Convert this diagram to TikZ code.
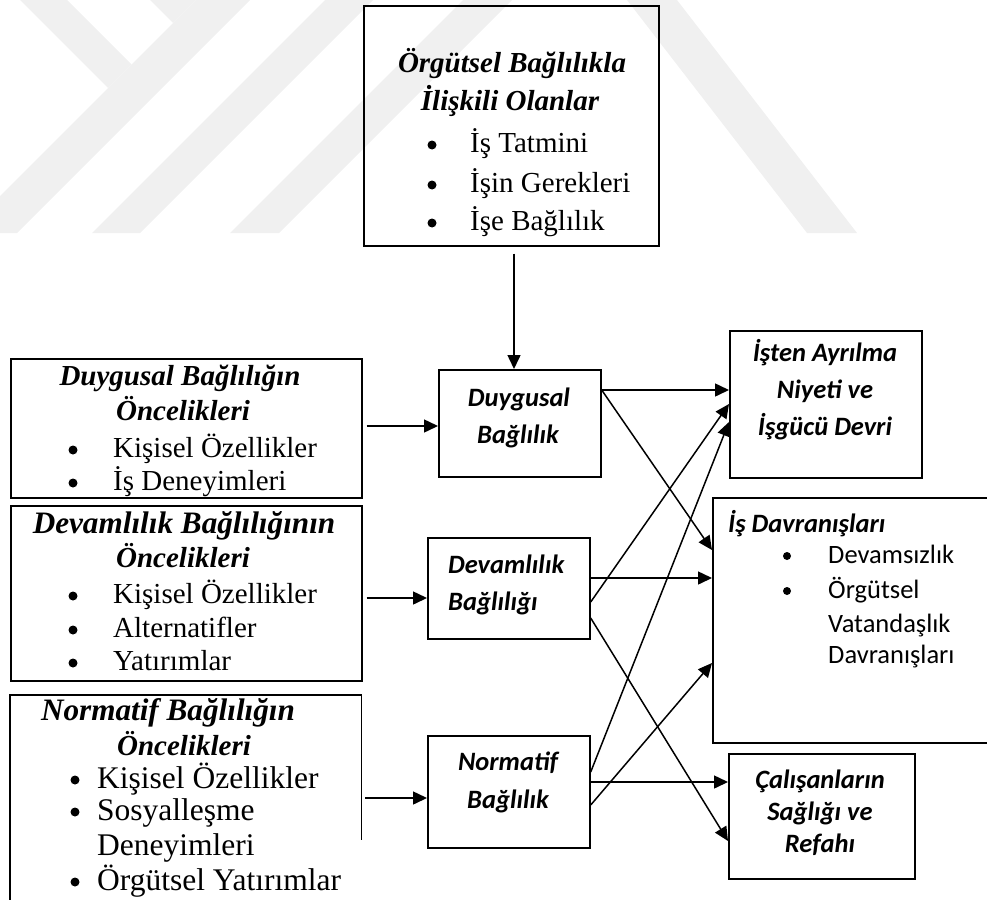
\documentclass[tikz,border=0pt]{standalone}
\usepackage{fontspec}
\setmainfont{Liberation Serif}
\newfontfamily\calfont{Carlito}
\usetikzlibrary{arrows.meta,calc}

\begin{document}
\begin{tikzpicture}[x=1pt,y=-1pt,
  box/.style={draw, line width=1.7pt, inner sep=0pt, anchor=north west},
  frame/.style={line width=1.7pt},
  conn/.style={line width=1.5pt, -{Triangle[length=14pt,width=13pt]}},
  bul/.style={circle, fill, draw=none, inner sep=0pt, minimum size=9pt},
  tnr/.style={font=\fontsize{29}{34}\selectfont, inner sep=0pt},
  tnrh/.style={font=\fontsize{29}{34}\selectfont\bfseries\itshape, inner sep=0pt},
  tnrl/.style={font=\fontsize{31.5}{36}\selectfont, inner sep=0pt},
  tnrlh/.style={font=\fontsize{31.2}{36}\selectfont\bfseries\itshape, inner sep=0pt},
  cal/.style={font=\calfont\fontsize{26.5}{32}\selectfont, inner sep=0pt},
  calh/.style={font=\calfont\fontsize{26.5}{32}\selectfont\bfseries\itshape, inner sep=0pt},
  wm/.style={fill=black!6, draw=none}
]
\useasboundingbox (0,0) rectangle (987,899);
\clip (0,0) rectangle (987,899);

% faint background stripes
\fill[wm] (20,0) -- (67,0) -- (131.5,64.5) -- (108,88) -- cycle;
\fill[wm] (196,0) -- (250,0) -- (17,233) -- (-37,233) -- cycle;
\fill[wm] (150,0) -- (196,0) -- (173,23) -- cycle;
\fill[wm] (325,0) -- (373,0) -- (140,233) -- (92,233) -- cycle;
\fill[wm] (463,0) -- (512,0) -- (279,233) -- (230,233) -- cycle;
\fill[wm] (627,0) -- (677,0) -- (857,233) -- (807,233) -- cycle;

% boxes
\node[box, minimum width=295pt, minimum height=240pt] (top) at (363,5) {};
\node[box, minimum width=351pt, minimum height=139pt] (ant1) at (10,358) {};
\node[box, minimum width=351pt, minimum height=175pt] (ant2) at (10,505) {};
\node[inner sep=0pt, anchor=north west, minimum width=351pt, minimum height=225pt] (ant3) at (10,695) {};
\draw[frame] (ant3.south west) -- (ant3.north west) -- (ant3.north east) -- ($(ant3.north east)+(0,145)$);

\node[box, minimum width=162pt, minimum height=107pt] (duy) at (438,369) {};
\node[box, minimum width=162pt, minimum height=101pt] (dev) at (427,537) {};
\node[box, minimum width=162pt, minimum height=112pt] (nor) at (427,735) {};

\node[box, minimum width=192pt, minimum height=147pt] (isten) at (729,330) {};
\node[box, minimum width=300pt, minimum height=245pt] (isdav) at (712,497) {};
\node[box, minimum width=186pt, minimum height=125pt] (calis) at (728,753) {};

% top box text
\node[tnrh, anchor=base] (t1) at (512,73) {Örgütsel Bağlılıkla};
\node[tnrh, anchor=base] (t2) at (510,110) {İlişkili Olanlar};
\node[bul] (tb1) at (432,145) {};
\node[tnr, anchor=base west] (ti1) at (470,152) {İş Tatmini};
\node[bul] (tb2) at (432,185) {};
\node[tnr, anchor=base west] (ti2) at (470,192) {İşin Gerekleri};
\node[bul] (tb3) at (432,223) {};
\node[tnr, anchor=base west] (ti3) at (470,230) {İşe Bağlılık};

% left box 1
\node[tnrh, anchor=base] (a1h1) at (180,385) {Duygusal Bağlılığın};
\node[tnrh, anchor=base] (a1h2) at (183,420) {Öncelikleri};
\node[bul] (a1b1) at (73,450) {};
\node[tnr, anchor=base west] (a1i1) at (113,457) {Kişisel Özellikler};
\node[bul] (a1b2) at (73,483) {};
\node[tnr, anchor=base west] (a1i2) at (113,490) {İş Deneyimleri};

% left box 2
\node[tnrlh, anchor=base] (a2h1) at (184,533) {Devamlılık Bağlılığının};
\node[tnrh, anchor=base] (a2h2) at (183,567) {Öncelikleri};
\node[bul] (a2b1) at (73,596) {};
\node[tnr, anchor=base west] (a2i1) at (113,603) {Kişisel Özellikler};
\node[bul] (a2b2) at (73,630) {};
\node[tnr, anchor=base west] (a2i2) at (113,637) {Alternatifler};
\node[bul] (a2b3) at (73,663) {};
\node[tnr, anchor=base west] (a2i3) at (113,670) {Yatırımlar};

% left box 3
\node[tnrlh, anchor=base] (a3h1) at (168,720) {Normatif Bağlılığın};
\node[tnrh, anchor=base] (a3h2) at (184,755) {Öncelikleri};
\node[bul] (a3b1) at (75,780) {};
\node[tnrl, anchor=base west] (a3i1) at (97,788) {Kişisel Özellikler};
\node[bul] (a3b2) at (75,812) {};
\node[tnrl, anchor=base west] (a3i2) at (97,820) {Sosyalleşme};
\node[tnrl, anchor=base west] (a3i2b) at (97,855) {Deneyimleri};
\node[bul] (a3b3) at (75,882) {};
\node[tnrl, anchor=base west] (a3i3) at (97,890) {Örgütsel Yatırımlar};

% middle boxes
\node[calh, anchor=base] (m1a) at (519,406) {Duygusal};
\node[calh, anchor=base] (m1b) at (518,443) {Bağlılık};
\node[calh, anchor=base west] (m2a) at (448,573) {Devamlılık};
\node[calh, anchor=base west] (m2b) at (448,610) {Bağlılığı};
\node[calh, anchor=base] (m3a) at (508,770) {Normatif};
\node[calh, anchor=base] (m3b) at (508,808) {Bağlılık};

% right boxes
\node[calh, anchor=base] (r1a) at (825,361) {İşten Ayrılma};
\node[calh, anchor=base] (r1b) at (825,398) {Niyeti ve};
\node[calh, anchor=base] (r1c) at (825,435) {İşgücü Devri};

\node[calh, anchor=base west] (r2h) at (728,532) {İş Davranışları};
\node[bul, minimum size=8pt] (r2b1) at (787,556) {};
\node[cal, anchor=base west] (r2i1) at (828,563) {Devamsızlık};
\node[bul, minimum size=8pt] (r2b2) at (787,591) {};
\node[cal, anchor=base west] (r2i2) at (828,598) {Örgütsel};
\node[cal, anchor=base west] (r2i3) at (828,632) {Vatandaşlık};
\node[cal, anchor=base west] (r2i4) at (828,663) {Davranışları};

\node[calh, anchor=base] (r3a) at (820,788) {Çalışanların};
\node[calh, anchor=base] (r3b) at (820,820) {Sağlığı ve};
\node[calh, anchor=base] (r3c) at (820,852) {Refahı};

% connectors
\draw[conn] ($(top.south west)+(151,7)$) -- ($(duy.north west)+(76,0)$);
\draw[conn] ($(ant1.north east)+(4,68)$) -- ($(duy.north west)+(0,57)$);
\draw[conn] ($(ant2.north east)+(4,93)$) -- ($(dev.north west)+(0,61)$);
\draw[conn] ($(ant3.north east)+(4,103)$) -- ($(nor.north west)+(0,63)$);

\draw[conn] ($(duy.north east)+(0,21)$) -- ($(isten.north west)+(0,60)$);
\draw[conn] ($(duy.north east)+(0,21)$) -- ($(isdav.north west)+(0,53)$);
\draw[conn] ($(dev.north east)+(0,65)$) -- ($(isten.north west)+(0,74)$);
\draw[conn] ($(dev.north east)+(0,41)$) -- ($(isdav.north west)+(0,81)$);
\draw[conn] ($(dev.north east)+(0,81)$) -- ($(calis.north west)+(0,88)$);
\draw[conn] ($(nor.north east)+(0,37)$) -- ($(isten.north west)+(0,92)$);
\draw[conn] ($(nor.north east)+(0,47)$) -- ($(calis.north west)+(0,29)$);
\draw[conn] ($(nor.north east)+(0,70)$) -- ($(isdav.north west)+(0,166)$);
\end{tikzpicture}
\end{document}
